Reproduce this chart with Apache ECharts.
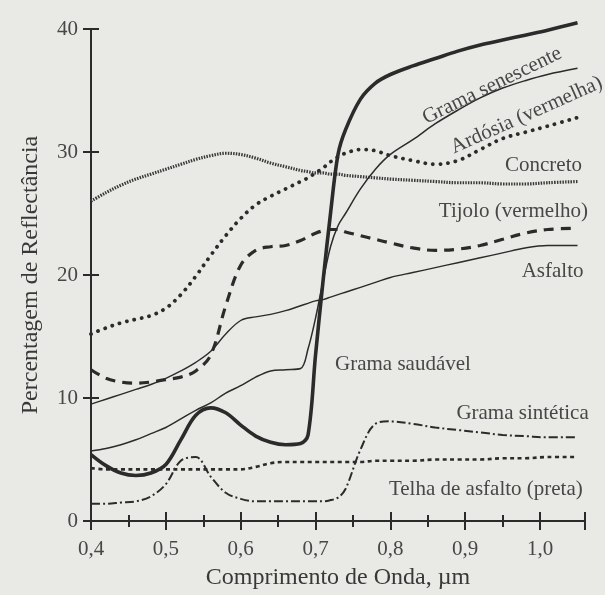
<!DOCTYPE html>
<html>
<head>
<meta charset="utf-8">
<script src="https://cdn.jsdelivr.net/npm/echarts@6.0.0/dist/echarts.min.js"></script>
<style>
    * { margin: 0; padding: 0; }
    body { background: #e9e9e6; }
    #chart { width: 605px; height: 595px; }
</style>
</head>
<body>
<div id="chart"></div>
<script>
    // comprimentos de onda (um)
    var wavelengths = [0.40, 0.42, 0.44, 0.46, 0.48, 0.50, 0.52, 0.54, 0.56, 0.58, 0.60, 0.62, 0.64, 0.66, 0.68,
        0.69, 0.70, 0.71, 0.72, 0.73, 0.74, 0.76, 0.78, 0.80, 0.83, 0.86, 0.89, 0.92, 0.95, 0.98, 1.01, 1.05];

    // reflectancia (%) por material
    var gramaSaudavel = [5.4, 4.5, 3.9, 3.7, 3.9, 4.6, 6.6, 8.6, 9.2, 8.8, 7.8, 6.9, 6.4, 6.2, 6.3,
        7.0, 13.5, 19.5, 25.0, 29.8, 31.8, 34.3, 35.6, 36.3, 37.0, 37.6, 38.2, 38.7, 39.1, 39.5, 39.9, 40.5];
    var gramaSenescente = [5.7, 5.9, 6.2, 6.6, 7.1, 7.6, 8.3, 9.0, 9.6, 10.4, 11.0, 11.7, 12.2, 12.3, 12.4,
        14.0, 16.5, 19.5, 22.3, 24.0, 25.0, 27.0, 28.6, 29.8, 31.0, 32.3, 33.4, 34.4, 35.2, 35.8, 36.3, 36.8];
    var ardosia = [15.2, 15.7, 16.1, 16.4, 16.7, 17.3, 18.4, 19.9, 21.6, 23.2, 24.6, 25.7, 26.4, 27.0, 27.6,
        27.9, 28.3, 28.7, 29.2, 29.6, 29.9, 30.2, 30.1, 29.7, 29.3, 29.0, 29.3, 30.2, 31.1, 31.6, 32.1, 32.8];
    var concreto = [26.0, 26.7, 27.3, 27.8, 28.2, 28.6, 29.0, 29.4, 29.7, 29.9, 29.8, 29.5, 29.1, 28.8, 28.5,
        28.4, 28.3, 28.3, 28.2, 28.2, 28.1, 28.0, 27.9, 27.8, 27.7, 27.6, 27.5, 27.5, 27.4, 27.4, 27.5, 27.6];
    var tijolo = [12.3, 11.6, 11.3, 11.2, 11.3, 11.5, 11.7, 12.2, 13.5, 17.5, 20.8, 22.0, 22.3, 22.4, 22.8,
        23.1, 23.4, 23.6, 23.7, 23.7, 23.5, 23.2, 22.9, 22.6, 22.2, 22.0, 22.1, 22.4, 22.9, 23.4, 23.7, 23.8];
    var asfalto = [9.5, 9.9, 10.3, 10.7, 11.1, 11.6, 12.2, 12.9, 13.8, 15.2, 16.3, 16.6, 16.8, 17.1, 17.5,
        17.7, 17.9, 18.0, 18.2, 18.4, 18.6, 19.0, 19.4, 19.8, 20.2, 20.6, 21.0, 21.4, 21.8, 22.2, 22.4, 22.4];
    var gramaSintetica = [1.4, 1.4, 1.5, 1.6, 2.0, 3.0, 4.9, 5.2, 3.6, 2.3, 1.8, 1.6, 1.6, 1.6, 1.6,
        1.6, 1.6, 1.6, 1.7, 1.9, 2.6, 5.8, 7.9, 8.1, 7.9, 7.6, 7.4, 7.2, 7.0, 6.9, 6.8, 6.8];
    var telhaAsfalto = [4.3, 4.2, 4.2, 4.2, 4.2, 4.2, 4.2, 4.2, 4.2, 4.2, 4.2, 4.4, 4.7, 4.8, 4.8,
        4.8, 4.8, 4.8, 4.8, 4.8, 4.8, 4.8, 4.9, 4.9, 4.9, 5.0, 5.0, 5.0, 5.1, 5.1, 5.2, 5.2];

    // eixos
    var xMin = 0.4, xMax = 1.06;
    var xTickValues = [0.4, 0.5, 0.6, 0.7, 0.8, 0.9, 1.0];
    var xMinorTicks = [0.45, 0.55, 0.65, 0.75, 0.85, 0.95];

    var ink = '#2b2b2b';
    var textInk = '#474747';
    var serif = '"Liberation Serif", "DejaVu Serif", serif';

    function pairs(vals) {
        return wavelengths.map(function (w, i) { return [w, vals[i]]; });
    }

    function line(name, vals, style) {
        return {
            name: name,
            type: 'line',
            data: pairs(vals),
            xAxisIndex: 0,
            yAxisIndex: 0,
            symbol: 'none',
            smooth: 0.35,
            clip: false,
            silent: true,
            lineStyle: Object.assign({ color: ink }, style),
            z: style.z || 2
        };
    }

    // eixos x sobrepostos para os tracos que cruzam a linha do eixo
    function xAxisCopy(ticks, len, inside, main) {
        return {
            type: 'value', min: xMin, max: xMax, position: 'bottom', offset: 0,
            splitLine: { show: false },
            axisLine: { show: main, lineStyle: { color: ink, width: 2 } },
            axisTick: { show: true, customValues: ticks, length: len, inside: inside,
                lineStyle: { color: ink, width: 2 } },
            axisLabel: main ? {
                show: true, customValues: xTickValues, margin: 18,
                color: textInk, fontFamily: serif, fontSize: 21,
                formatter: function (v) { return v.toFixed(1).replace('.', ','); }
            } : { show: false },
            name: main ? 'Comprimento de Onda, µm' : '',
            nameLocation: 'middle', nameGap: 45,
            nameTextStyle: { color: '#383838', fontFamily: serif, fontSize: 24 }
        };
    }

    function yAxisCopy(inside, main) {
        return {
            type: 'value', min: 0, max: 40, interval: 10, position: 'left', offset: 0,
            splitLine: { show: false },
            axisLine: { show: main, lineStyle: { color: ink, width: 2 } },
            axisTick: { show: true, length: 8, inside: inside, lineStyle: { color: ink, width: 2 } },
            axisLabel: main ? { show: true, margin: 13, color: textInk, fontFamily: serif, fontSize: 21 }
                : { show: false },
            name: main ? 'Percentagem de Reflectância' : '',
            nameLocation: 'middle', nameGap: 48, nameRotate: 90,
            nameTextStyle: { color: '#383838', fontFamily: serif, fontSize: 24 }
        };
    }

    // rotulos das curvas, em coordenadas dos dados
    var curveLabels = [
        { text: 'Grama senescente', at: [0.936, 35.4], rot: 26, align: 'center' },
        { text: 'Ardósia (vermelha)', at: [0.982, 33.0], rot: 24, align: 'center' },
        { text: 'Concreto', at: [1.056, 28.9], rot: 0, align: 'right' },
        { text: 'Tijolo (vermelho)', at: [1.064, 25.2], rot: 0, align: 'right' },
        { text: 'Asfalto', at: [1.058, 20.3], rot: 0, align: 'right' },
        { text: 'Grama saudável', at: [0.726, 12.7], rot: 0, align: 'left' },
        { text: 'Grama sintética', at: [1.065, 8.75], rot: 0, align: 'right' },
        { text: 'Telha de asfalto (preta)', at: [1.057, 2.6], rot: 0, align: 'right' }
    ];

    var option = {
        backgroundColor: '#e9e9e6',
        animation: false,
        grid: { left: 91, right: 20, top: 29, bottom: 73, containLabel: false },
        xAxis: [
            xAxisCopy(xTickValues.concat([xMax]), 9, false, true),
            xAxisCopy(xTickValues.concat([xMax]), 9, true, false),
            xAxisCopy(xMinorTicks, 6, false, false),
            xAxisCopy(xMinorTicks, 6, true, false)
        ],
        yAxis: [yAxisCopy(false, true), yAxisCopy(true, false)],
        series: [
            line('Concreto', concreto, { width: 3.2, type: [1.5, 1.2], color: '#3a3a3a' }),
            line('Ardósia (vermelha)', ardosia, { width: 3.8, type: [0.1, 7.5], cap: 'round' }),
            line('Tijolo (vermelho)', tijolo, { width: 3.2, type: [10, 7] }),
            line('Asfalto', asfalto, { width: 1.4 }),
            line('Grama senescente', gramaSenescente, { width: 1.5 }),
            line('Grama sintética', gramaSintetica, { width: 2, type: [9, 3, 2, 3] }),
            line('Telha de asfalto (preta)', telhaAsfalto, { width: 2.6, type: [4, 3.5] }),
            line('Grama saudável', gramaSaudavel, { width: 3.6, z: 5 })
        ]
    };

    var myChart = echarts.init(document.getElementById('chart'), null, { renderer: 'canvas' });
    myChart.setOption(option);

    var texts = curveLabels.map(function (l) {
        var p = myChart.convertToPixel({ xAxisIndex: 0, yAxisIndex: 0 }, l.at);
        return {
            type: 'text', x: p[0], y: p[1], rotation: l.rot * Math.PI / 180, silent: true, z: 10,
            style: { text: l.text, fill: textInk, font: '21px ' + serif, align: l.align, verticalAlign: 'middle' }
        };
    });
    myChart.setOption({ graphic: texts });
</script>
</body>
</html>
